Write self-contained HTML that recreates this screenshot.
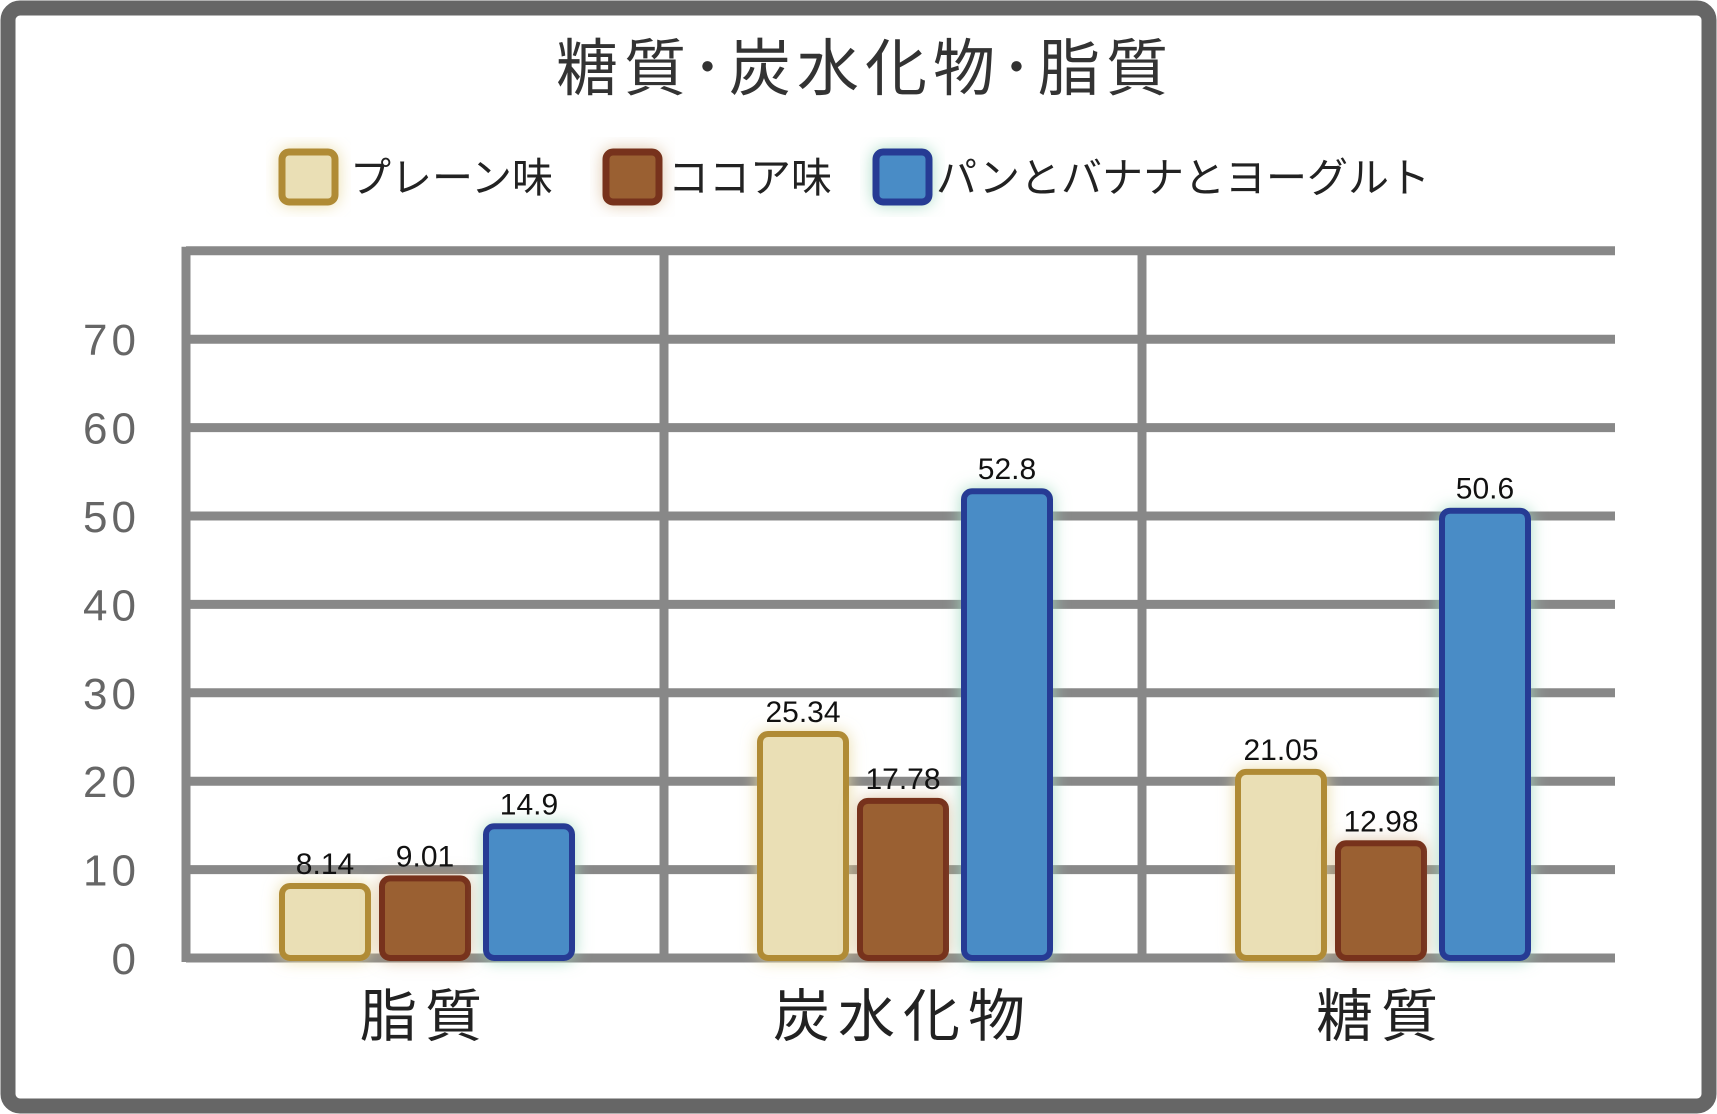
<!DOCTYPE html>
<html><head><meta charset="utf-8"><style>
html,body{margin:0;padding:0;background:#fff;}
svg{display:block;}
text{font-family:"Liberation Sans","Noto Sans CJK JP",sans-serif;}
</style></head><body>
<svg id="chart" width="1717" height="1114" viewBox="0 0 1717 1114">
<defs>
<filter id="g1" x="-30%" y="-30%" width="160%" height="160%"><feDropShadow dx="0" dy="0" stdDeviation="8" flood-color="#e8d9a0" flood-opacity="0.9"/></filter>
<filter id="g2" x="-30%" y="-30%" width="160%" height="160%"><feDropShadow dx="0" dy="0" stdDeviation="8" flood-color="#c9a070" flood-opacity="0.6"/></filter>
<filter id="g3" x="-30%" y="-30%" width="160%" height="160%"><feDropShadow dx="0" dy="0" stdDeviation="8" flood-color="#a0d8c0" flood-opacity="0.9"/></filter>
</defs>
<rect x="8" y="8" width="1701" height="1098" rx="12" fill="#fff" stroke="#666" stroke-width="15"/>
<text x="865" y="90" text-anchor="middle" font-size="62" fill="#333" letter-spacing="6">糖質･炭水化物･脂質</text>
<g>
<g><rect x="282" y="152" width="53" height="50" rx="7" fill="#eadfb5" stroke="#b08b35" stroke-width="7" filter="url(#g1)"/><text x="350" y="192" font-size="41" fill="#222">プレーン味</text></g>
<g><rect x="606" y="152" width="53" height="50" rx="7" fill="#9a6033" stroke="#77331c" stroke-width="7" filter="url(#g2)"/><text x="668" y="192" font-size="41" fill="#222">ココア味</text></g>
<g><rect x="876" y="152" width="53" height="50" rx="7" fill="#4a8cc6" stroke="#283a94" stroke-width="7" filter="url(#g3)"/><text x="936" y="192" font-size="41" fill="#222">パンとバナナとヨーグルト</text></g>
</g>
<g id="grid"></g>
<g id="bars"></g>
<g id="labels"></g>
</svg>
<script>
const categories = ["脂質","炭水化物","糖質"];
const seriesNames = ["プレーン味","ココア味","パンとバナナとヨーグルト"];
const plainValues = [8.14, 25.34, 21.05];
const cocoaValues = [9.01, 17.78, 12.98];
const yogurtValues = [14.9, 52.8, 50.6];
const valueLabels = [["8.14","25.34","21.05"],["9.01","17.78","12.98"],["14.9","52.8","50.6"]];
const yTicks = [0,10,20,30,40,50,60,70];

const NS="http://www.w3.org/2000/svg";
const x0=186, x1=1615, yZero=958, perUnit=8.84, band=478;
const yScale=v=>yZero - v*perUnit;
const catCenter=i=>x0 + band*(i+0.5);
const barW=86, step=100;
const fills=["#eadfb5","#9a6033","#4a8cc6"], strokes=["#b08b35","#77331c","#283a94"], glows=["g1","g2","g3"];
function mk(tag,attrs,parent){const e=document.createElementNS(NS,tag);for(const k in attrs)e.setAttribute(k,attrs[k]);parent.appendChild(e);return e;}
const grid=document.getElementById('grid'), bars=document.getElementById('bars'), labels=document.getElementById('labels');
// horizontal grid incl. top line at 80
[...yTicks,80].forEach(t=>{
  const l=mk('line',{x1:x0,x2:x1,y1:yScale(t),y2:yScale(t),stroke:'#888','stroke-width':9},grid);
  
  
});
yTicks.forEach(t=>{
  const tx=mk('text',{x:140,y:yScale(t)+16,'text-anchor':'end','font-size':44,fill:'#666','letter-spacing':4},grid);
  tx.textContent=t;
  
  
});
for(let i=0;i<=categories.length;i++){
  const x=(i===0?x0:(i===categories.length?null:x0+band*i));
  if(x===null)continue;
  const l=mk('line',{x1:x,x2:x,y1:yScale(80)-4,y2:yZero+4,stroke:'#888','stroke-width':9},grid);
  
  
}
const series=[plainValues,cocoaValues,yogurtValues];
categories.forEach((c,i)=>{
  const cx=catCenter(i);
  series.forEach((vals,s)=>{
    const bx=cx+(s-1)*step+(s===2?4:0)-barW/2;
    const top=yScale(vals[i]);
    const r=mk('rect',{x:bx,y:top,width:barW,height:yZero-top,rx:8,fill:fills[s],stroke:strokes[s],'stroke-width':6,filter:'url(#'+glows[s]+')'},bars);
    
    
    const t=mk('text',{x:bx+barW/2,y:top-12,'text-anchor':'middle','font-size':30,fill:'#111'},labels);
    t.textContent=valueLabels[s][i];
    
    
  });
  const ct=mk('text',{x:cx,y:1036,'text-anchor':'middle','font-size':57,fill:'#222','letter-spacing':8},labels);
  ct.textContent=c;
  
  
});
</script>
</body></html>
